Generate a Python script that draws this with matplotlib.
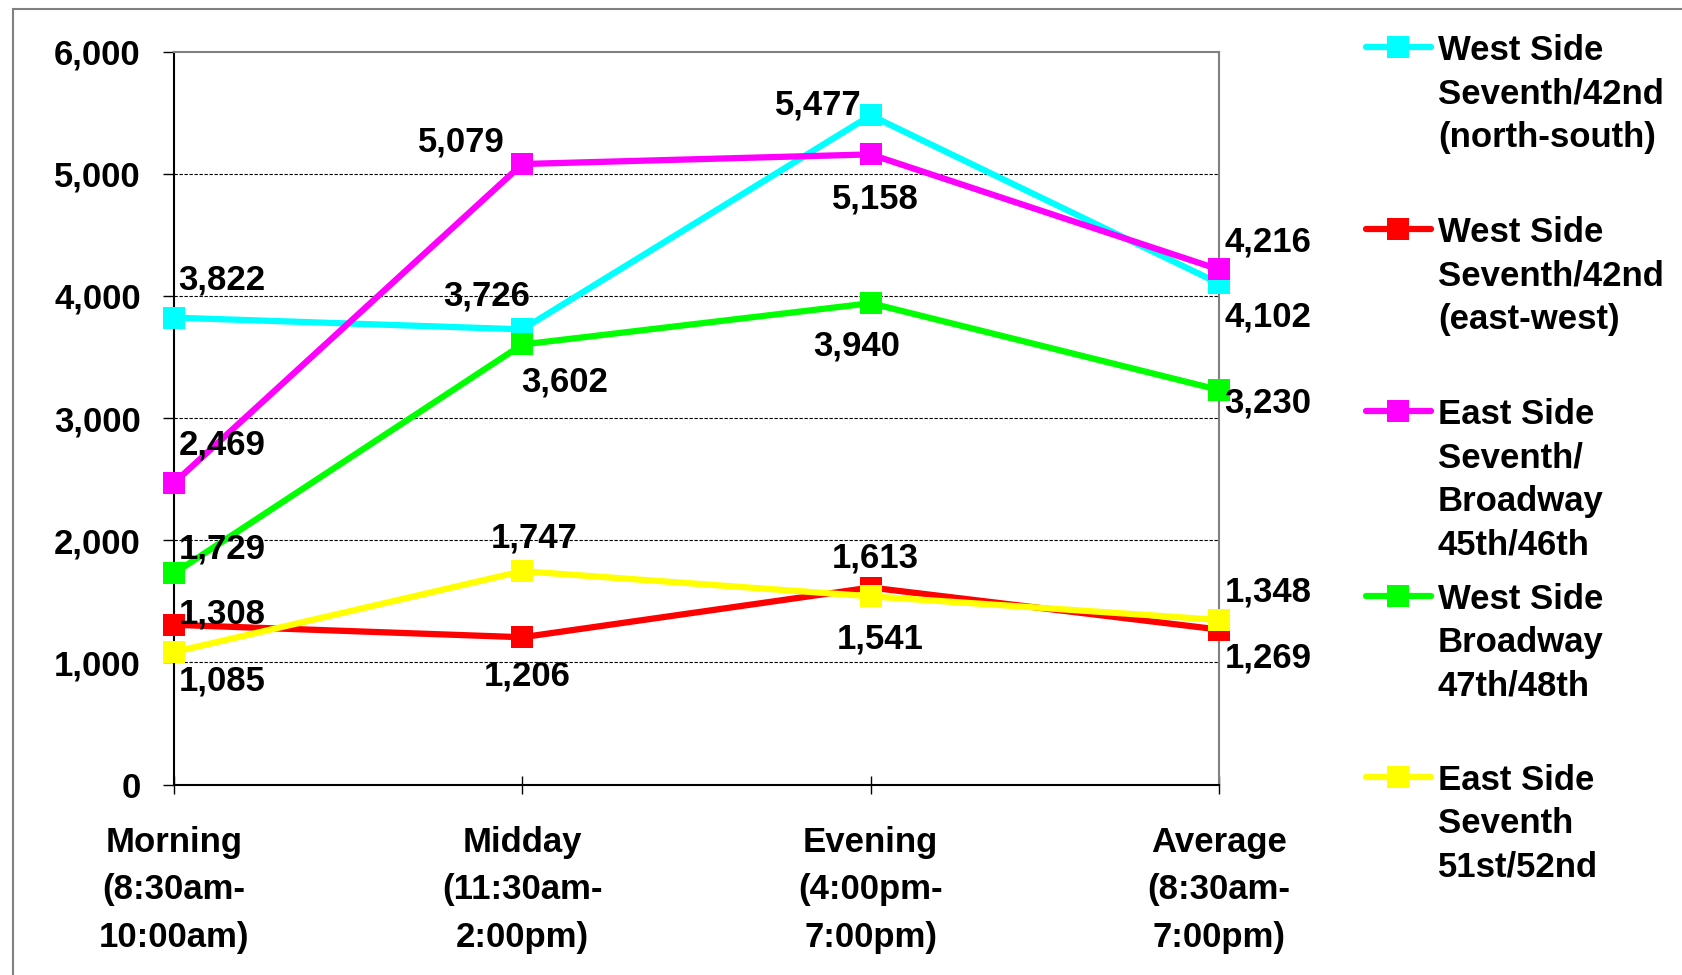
import matplotlib
matplotlib.use("Agg")
import matplotlib.pyplot as plt
from matplotlib.lines import Line2D
from matplotlib.patches import Rectangle

categories = ["Morning\n(8:30am-\n10:00am)", "Midday\n(11:30am-\n2:00pm)",
              "Evening\n(4:00pm-\n7:00pm)", "Average\n(8:30am-\n7:00pm)"]
series_names = ["West Side\nSeventh/42nd\n(north-south)",
                "West Side\nSeventh/42nd\n(east-west)",
                "East Side\nSeventh/\nBroadway\n45th/46th",
                "West Side\nBroadway\n47th/48th",
                "East Side\nSeventh\n51st/52nd"]
west_7th_42nd_ns = [3822, 3726, 5477, 4102]
west_7th_42nd_ew = [1308, 1206, 1613, 1269]
east_7th_bway_45_46 = [2469, 5079, 5158, 4216]
west_bway_47_48 = [1729, 3602, 3940, 3230]
east_7th_51_52 = [1085, 1747, 1541, 1348]
series_values = [west_7th_42nd_ns, west_7th_42nd_ew, east_7th_bway_45_46,
                 west_bway_47_48, east_7th_51_52]
colors = ["#00FFFF", "#FF0000", "#FF00FF", "#00FF00", "#FFFF00"]
yticks = [0, 1000, 2000, 3000, 4000, 5000, 6000]

# label offsets in pixels (dx, dy) per series per point
label_offsets = [
    [(48, 41), (-36, 36), (-52, 13), (49, -31)],
    [(48, 14), (5, -36), (5, 33), (49, -25)],
    [(48, 41), (-61, 25), (5, -42), (49, 30)],
    [(48, 27), (42, -35), (-14, -40), (49, -10)],
    [(48, -26), (12, 36), (10, -40), (49, 31)],
]
LABEL_SHIFT = -3

FONT = "Liberation Sans"
FS = 25
plt.rcParams["font.family"] = [FONT, "DejaVu Sans"]
plt.rcParams["font.weight"] = "bold"

W, H = 1683, 975
fig = plt.figure(figsize=(W / 100, H / 100), dpi=100)
fig.patch.set_facecolor("white")

# outer frame
fig.patches.append(Rectangle((13 / W, -0.2), 1.2, 1.2 - 9 / H,
                             transform=fig.transFigure, fill=False,
                             edgecolor="#808080", linewidth=1.5))

ax = fig.add_axes([174 / W, 1 - 784.6 / H, (1219 - 174) / W, (784.6 - 51.5) / H])
x = list(range(len(categories)))
for vals, col, offs in zip(series_values, colors, label_offsets):
    ax.plot(x, vals, color=col, linewidth=4.5, marker="s", markersize=16.5,
            markeredgewidth=0, clip_on=False, zorder=3)
    for xi, v, (dx, dy) in zip(x, vals, offs):
        ax.annotate(f"{v:,}", (xi, v), xytext=(dx, dy + LABEL_SHIFT),
                    textcoords="offset pixels",
                    ha="center", va="center", fontsize=FS, fontweight="bold",
                    color="black", zorder=5, annotation_clip=False)

ax.set_xlim(0, 3)
ax.set_ylim(0, 6000)
ax.set_yticks(yticks)
ax.set_yticklabels([f"{t:,}" for t in yticks], fontsize=FS, fontweight="bold")
ax.set_xticks(x)
ax.set_xticklabels(categories, fontsize=FS, fontweight="bold", linespacing=1.56)
for t in ax.get_xticklabels():
    t.set_horizontalalignment("center")
ax.tick_params(axis="y", direction="out", length=8, width=1, pad=16)
ax.tick_params(axis="x", direction="inout", length=13, width=1, pad=23)
for yv in yticks[1:-1]:
    ax.axhline(yv, color="black", linewidth=0.8, linestyle=(0, (3, 1.5)), zorder=1)
ax.spines["left"].set_color("black")
ax.spines["bottom"].set_color("black")
ax.spines["top"].set_color("#808080")
ax.spines["right"].set_color("#808080")
for s in ax.spines.values():
    s.set_linewidth(1.5)

# legend drawn manually
leg_y = [47, 229, 411, 596, 777]
for name, col, yy in zip(series_names, colors, leg_y):
    yf = 1 - yy / H
    fig.add_artist(Line2D([1366 / W, 1431 / W], [yf, yf], transform=fig.transFigure,
                          color=col, linewidth=4.5, solid_capstyle="round"))
    fig.add_artist(Line2D([1398.5 / W], [yf], transform=fig.transFigure, color=col,
                          marker="s", markersize=16.5, markeredgewidth=0))
    fig.text(1438 / W, 1 - (yy - 13) / H, name, fontsize=FS, fontweight="bold",
             ha="left", va="top", linespacing=1.40)

fig.savefig("out.png", dpi=100)
